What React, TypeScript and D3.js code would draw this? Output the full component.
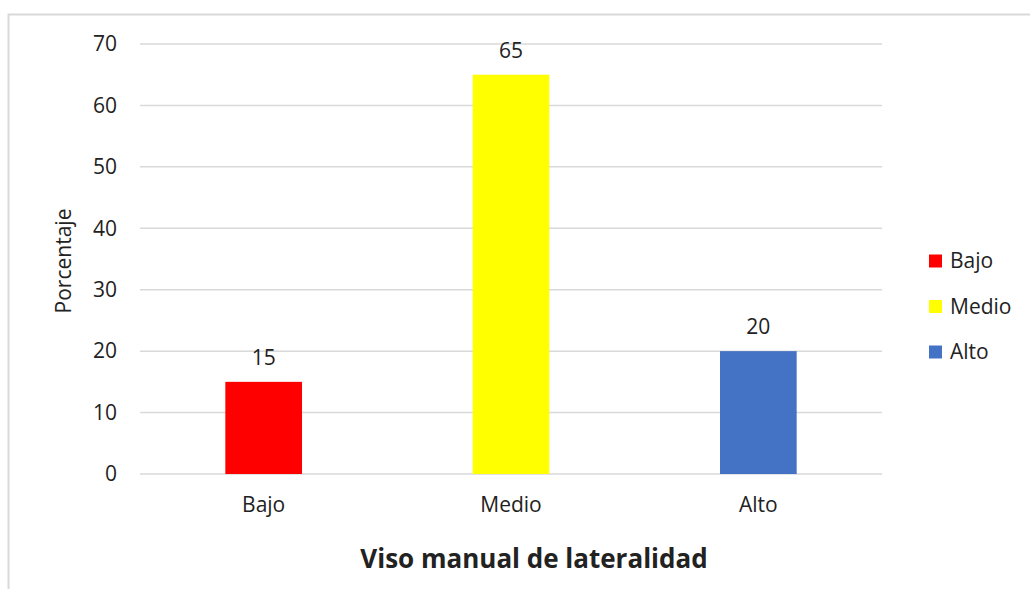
import * as d3 from "d3";

const categories = ["Bajo", "Medio", "Alto"];
const values = [15, 65, 20];
const colors = ["#ff0000", "#ffff00", "#4472c4"];
const yTicks = [0, 10, 20, 30, 40, 50, 60, 70];

const W = 1030;
const H = 589;
const plot = { left: 140, right: 882, top: 44, bottom: 474 };
const font = "'Open Sans', 'Liberation Sans', sans-serif";
const fs = 21;

export default function App() {
  const x = d3
    .scaleBand<string>()
    .domain(categories)
    .range([plot.left, plot.right])
    .paddingInner(0.69)
    .paddingOuter(0.345);
  const y = d3.scaleLinear().domain([0, 70]).range([plot.bottom, plot.top]);

  return (
    <svg
      width={W}
      height={H}
      style={{ position: "absolute", left: 0, top: 0, background: "#fff" }}
    >
      {/* chart border */}
      <rect x={8.5} y={14.5} width={W + 10} height={H + 10} fill="none" stroke="#d9d9d9" strokeWidth={2} />

      {yTicks.map((t) => (
        <g key={t}>
          <line x1={plot.left} x2={plot.right} y1={y(t)} y2={y(t)} stroke="#d9d9d9" strokeWidth={1.5} />
          <text x={117} y={y(t)} dy="0.35em" textAnchor="end" fontFamily={font} fontSize={fs} fill="#222">
            {t}
          </text>
        </g>
      ))}

      {categories.map((c, i) => (
        <g key={c}>
          <rect
            x={x(c)!}
            y={y(values[i])}
            width={x.bandwidth()}
            height={y(0) - y(values[i])}
            fill={colors[i]}
          />
          <text
            x={x(c)! + x.bandwidth() / 2}
            y={y(values[i]) - 17}
            textAnchor="middle"
            fontFamily={font}
            fontSize={fs}
            fill="#222"
          >
            {values[i]}
          </text>
          <text
            x={x(c)! + x.bandwidth() / 2}
            y={505}
            dy="0.35em"
            textAnchor="middle"
            fontFamily={font}
            fontSize={fs}
            fill="#222"
          >
            {c}
          </text>
        </g>
      ))}

      <text
        transform="translate(64,261) rotate(-90)"
        dy="0.35em"
        textAnchor="middle"
        fontFamily={font}
        fontSize={fs}
        fill="#222"
      >
        Porcentaje
      </text>

      <text x={534} y={559} dy="0.35em" textAnchor="middle" fontFamily={font} fontSize={26} fontWeight="bold" fill="#222">
        Viso manual de lateralidad
      </text>

      {categories.map((c, i) => (
        <g key={"lg" + c} transform={`translate(929,${261 + i * 45.5})`}>
          <rect x={0} y={-6.5} width={13} height={13} fill={colors[i]} />
          <text x={21} y={0} dy="0.35em" fontFamily={font} fontSize={fs} fill="#222">
            {c}
          </text>
        </g>
      ))}
    </svg>
  );
}
